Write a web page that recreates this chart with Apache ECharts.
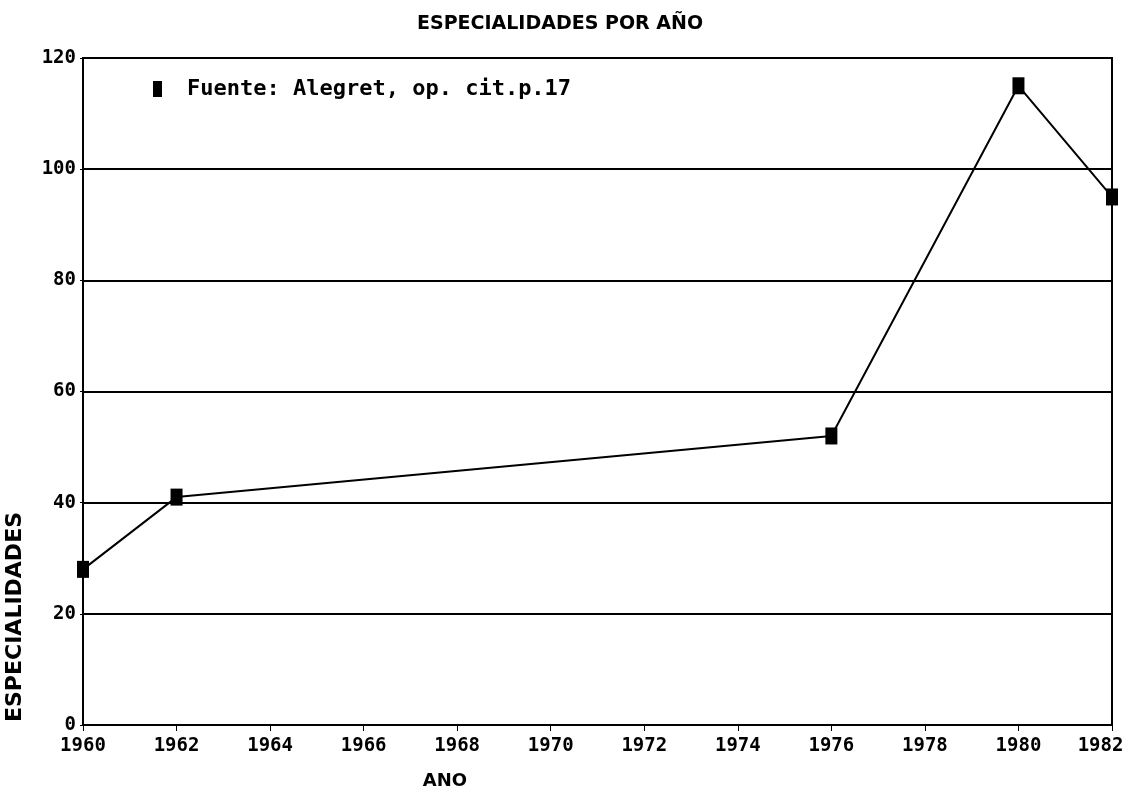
<!DOCTYPE html>
<html>
<head>
<meta charset="utf-8">
<title>Especialidades por año</title>
<script src="https://cdn.jsdelivr.net/npm/echarts@6/dist/echarts.min.js"></script>
<style>
  html, body { margin: 0; padding: 0; background: #fff; }
  #chart { width: 1124px; height: 796px; }
</style>
</head>
<body>
<div id="chart"></div>
<script>
// datos
const years = [1960, 1962, 1976, 1980, 1982]
const especialidades = [28, 41, 52, 115, 95]
const seriesName = 'Fuente: Alegret, op. cit.p.17'

const mono = 'DejaVu Sans Mono'
const ink = '#000'

const chart = echarts.init(document.getElementById('chart'))

const option = {
  backgroundColor: '#fff',
  animation: false,
  title: {
    text: 'ESPECIALIDADES POR AÑO',
    left: 555,
    top: 10,
    textAlign: 'center',
    textStyle: { fontFamily: 'DejaVu Sans', fontWeight: 'bold', fontSize: 19, color: ink }
  },
  legend: {
    data: [seriesName],
    left: 153,
    top: 78,
    padding: 0,
    icon: 'rect',
    itemWidth: 9,
    itemHeight: 16,
    textStyle: { fontFamily: mono, fontWeight: 'bold', fontSize: 22, color: ink, padding: [0, 0, 0, 20] }
  },
  grid: {
    left: 83,
    right: 12,
    top: 58,
    bottom: 71,
    outerBoundsMode: 'none',
    containLabel: false,
    show: true,
    borderColor: ink,
    borderWidth: 2
  },
  xAxis: {
    type: 'value',
    min: 1960,
    max: 1982,
    interval: 2,
    axisLine: { show: true, lineStyle: { color: ink, width: 2 } },
    axisTick: { show: true, length: 6, lineStyle: { color: ink, width: 1 } },
    axisLabel: {
      fontFamily: mono, fontWeight: 'bold', fontSize: 19, color: ink, margin: 12,
      // el ultimo rotulo queda pegado al borde derecho
      formatter: v => v === 1982 ? '1982  ' : String(v)
    },
    splitLine: { show: false }
  },
  yAxis: {
    type: 'value',
    min: 0,
    max: 120,
    interval: 20,
    axisLine: { show: true, lineStyle: { color: ink, width: 2 } },
    axisTick: { show: true, length: 3, lineStyle: { color: ink } },
    axisLabel: { fontFamily: mono, fontWeight: 'bold', fontSize: 19, color: ink, margin: 7 },
    splitLine: { show: true, lineStyle: { color: ink, width: 2 } }
  },
  graphic: [
    {
      type: 'text',
      x: 15,
      y: 617,
      rotation: Math.PI / 2,
      style: {
        text: 'ESPECIALIDADES',
        font: 'bold 22px "DejaVu Sans"',
        fill: ink,
        align: 'center',
        verticalAlign: 'middle'
      }
    },
    {
      type: 'text',
      x: 445,
      y: 781,
      style: {
        text: 'ANO',
        font: 'bold 18px "DejaVu Sans"',
        fill: ink,
        align: 'center',
        verticalAlign: 'middle'
      }
    }
  ],
  series: [
    {
      name: seriesName,
      type: 'line',
      data: years.map((y, i) => [y, especialidades[i]]),
      symbol: 'rect',
      symbolSize: [12, 17],
      itemStyle: { color: ink },
      lineStyle: { color: ink, width: 2 }
    }
  ]
}

chart.setOption(option)
</script>
</body>
</html>
